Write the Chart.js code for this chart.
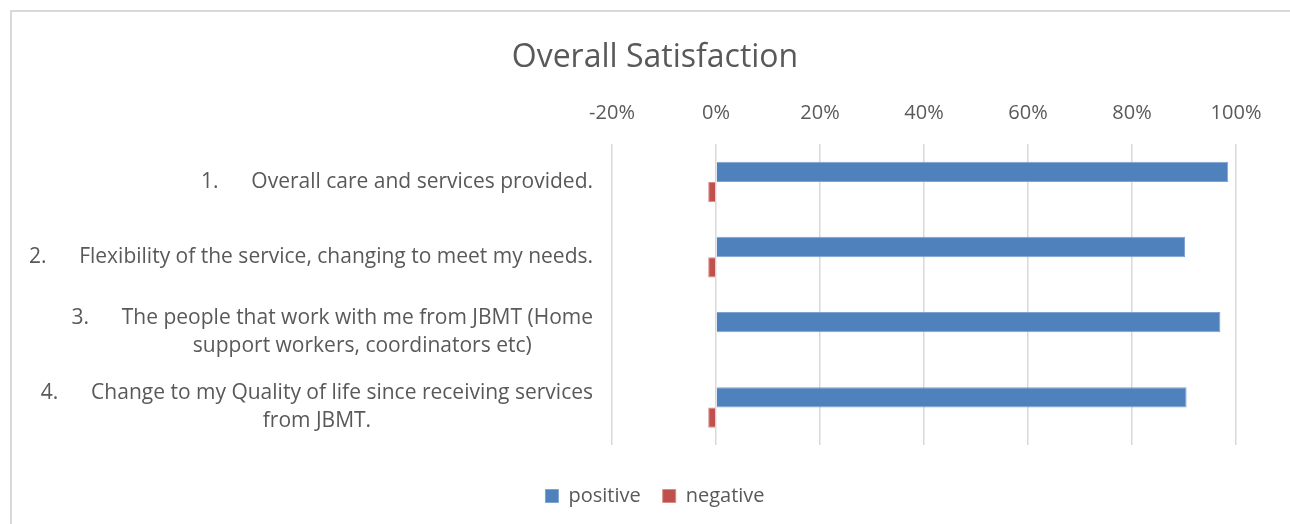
<!DOCTYPE html>
<html>
<head>
<meta charset="utf-8">
<script src="https://cdn.jsdelivr.net/npm/chart.js@4/dist/chart.umd.min.js"></script>
<style>
  html, body { margin: 0; padding: 0; background: #fff; overflow: hidden; }
  #frame {
    position: absolute; left: 10px; top: 10px; width: 1300px; height: 530px;
    border-top: 2px solid #d9d9d9; border-left: 2px solid #d9d9d9;
  }
  #wrap { position: absolute; left: 10px; top: 10px; width: 1290px; height: 514px; }
</style>
</head>
<body>
<div id="frame"></div>
<div id="wrap"><canvas id="chart"></canvas></div>
<script>
// chart data
const categories = [
    ['1.      Overall care and services provided.'],
    ['2.      Flexibility of the service, changing to meet my needs.'],
    ['3.      The people that work with me from JBMT (Home', '           support workers, coordinators etc)'],
    ['4.      Change to my Quality of life since receiving services', 'from JBMT.']
];
const positive = [0.985, 0.902, 0.970, 0.905];
const negative = [-0.015, -0.015, 0, -0.015];
const xTicks = [-0.2, 0, 0.2, 0.4, 0.6, 0.8, 1.0];

const FONT = '"Open Sans", Lato, sans-serif';
const TEXT = '#595959';

// draws the category labels: right-aligned block, lines centred within it
const categoryLabels = {
    id: 'categoryLabels',
    afterDraw: function(chart) {
        const ctx = chart.ctx;
        const yScale = chart.scales.y;
        const right = chart.chartArea.left - 19;
        const lineH = 28;
        ctx.save();
        ctx.font = '21px ' + FONT;
        ctx.fillStyle = TEXT;
        ctx.textAlign = 'center';
        ctx.textBaseline = 'middle';
        categories.forEach(function(lines, i) {
            const y = yScale.getPixelForValue(i);
            const widest = Math.max.apply(null, lines.map(function(l) { return ctx.measureText(l).width; }));
            const top = y - (lines.length - 1) * lineH / 2;
            lines.forEach(function(l, j) {
                ctx.fillText(l, right - widest / 2, top + j * lineH);
            });
        });
        ctx.restore();
    }
};

// empty axes used only to reserve room around the plot
function spacer(axis, position, size) {
    return {
        axis: axis,
        position: position,
        display: true,
        ticks: { display: false },
        grid: { display: false },
        border: { display: false },
        afterFit: function(scale) {
            if (axis === 'x') scale.height = size; else scale.width = size;
        }
    };
}

new Chart(document.getElementById('chart'), {
    type: 'bar',
    data: {
        labels: categories,
        datasets: [{
            label: 'positive',
            data: positive,
            backgroundColor: '#4f81bd',
            borderColor: '#7fa3d0',
            borderWidth: 1
        }, {
            label: 'negative',
            data: negative,
            backgroundColor: '#c0504d',
            borderColor: '#d88d8b',
            borderWidth: 1
        }]
    },
    options: {
        indexAxis: 'y',
        responsive: true,
        maintainAspectRatio: false,
        animation: false,
        layout: {
            padding: { left: 0, right: 0, top: 10, bottom: 8 }
        },
        datasets: {
            bar: { categoryPercentage: 0.54, barPercentage: 1.0 }
        },
        scales: {
            x: {
                position: 'top',
                min: -0.2,
                max: 1.0,
                afterBuildTicks: function(scale) {
                    scale.ticks = xTicks.map(function(v) { return { value: v }; });
                },
                ticks: {
                    padding: 19,
                    color: TEXT,
                    font: { family: FONT, size: 20 },
                    callback: function(v) { return Math.round(v * 100) + '%'; }
                },
                grid: { color: '#d9d9d9', lineWidth: 1.5, drawTicks: false },
                border: { display: false }
            },
            y: {
                position: 'left',
                ticks: { display: false },
                grid: { display: false },
                border: { display: false },
                afterFit: function(scale) { scale.width = 602; }
            },
            yRight: spacer('y', 'right', 64),
            xBottom: spacer('x', 'bottom', 19)
        },
        plugins: {
            title: {
                display: true,
                text: 'Overall Satisfaction',
                color: TEXT,
                font: { family: FONT, size: 32, weight: 'normal' },
                padding: { top: 19, bottom: 5 }
            },
            legend: {
                position: 'bottom',
                labels: {
                    color: TEXT,
                    font: { family: FONT, size: 20 },
                    boxWidth: 13,
                    boxHeight: 13,
                    padding: 22
                }
            },
            tooltip: { enabled: false }
        }
    },
    plugins: [categoryLabels]
});
</script>
</body>
</html>
